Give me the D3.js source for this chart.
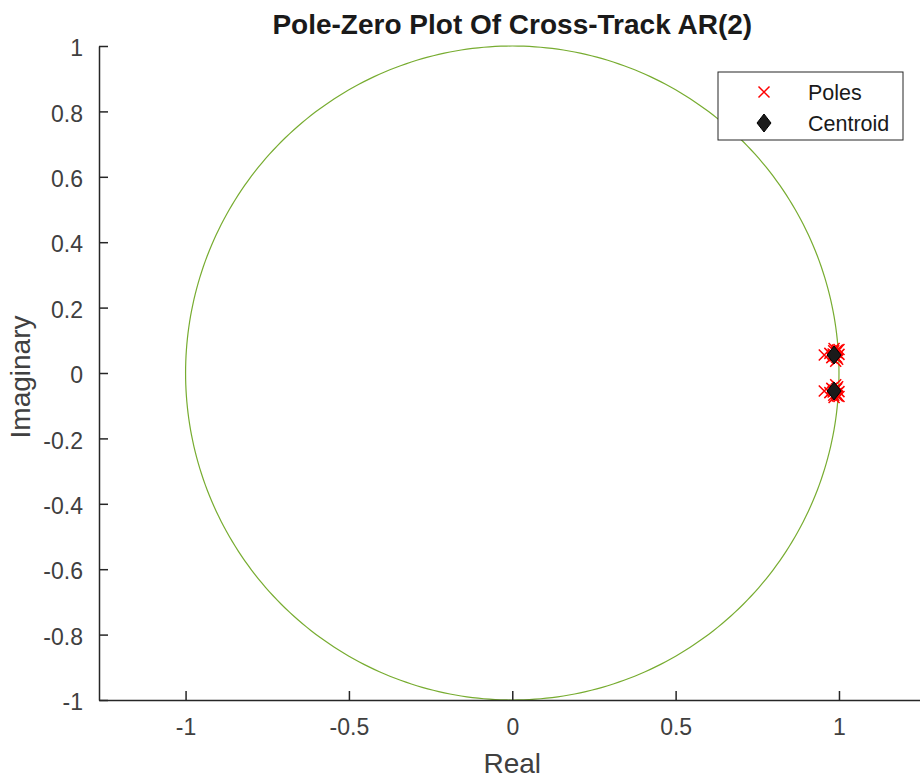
<!doctype HTML>
<html>
  <head>
    <meta charset="utf-8">
    <title>Pole-Zero Plot</title>
    <style>
      body { margin: 0; background: #fff; }
      text { font-family: "Liberation Sans", Arial, sans-serif; fill: #262626; }
    </style>
    <script src="https://cdn.jsdelivr.net/npm/d3@7/dist/d3.min.js"></script>
  </head>
  <body>

  <svg width="920" height="779"></svg>

  <script>

  // upper-half poles (conjugates are mirrored below)
  var poleReal = [0.955, 0.972, 0.978, 0.984, 0.988, 0.992, 0.996, 1.0, 0.985, 0.99, 0.995, 0.982, 1.0, 0.993];
  var poleImag = [0.055, 0.060, 0.047, 0.068, 0.052, 0.063, 0.042, 0.057, 0.075, 0.036, 0.070, 0.058, 0.072, 0.048];
  var centroidReal = [0.985, 0.985];
  var centroidImag = [0.055, -0.055];
  var xTicks = [-1, -0.5, 0, 0.5, 1];
  var yTicks = [-1, -0.8, -0.6, -0.4, -0.2, 0, 0.2, 0.4, 0.6, 0.8, 1];

  var $svg = d3.select('svg');
  var plotLeft = 99, plotRight = 920, plotTop = 46, plotBottom = 700;
  var axisColor = '#262626';
  var labelColor = '#404040';

  var x = d3.scaleLinear().domain([-1.265, 1.248]).range([plotLeft, plotRight]);
  var y = d3.scaleLinear().domain([-1, 1]).range([plotBottom, plotTop]);

  // unit circle
  var angles = d3.range(0, 361, 1).map(function(d){ return d * Math.PI / 180; });
  var line = d3.line()
    .x(function(a){ return x(Math.cos(a)); })
    .y(function(a){ return y(Math.sin(a)); });
  $svg.append('path')
    .attr('d', line(angles))
    .attr('fill', 'none')
    .attr('stroke', '#77AC30')
    .attr('stroke-width', 1.2);

  // axes
  var fmt = function(d){ return String(d); };
  var xAxis = d3.axisBottom(x).tickValues(xTicks).tickSizeInner(-9).tickSizeOuter(0)
    .tickPadding(19).tickFormat(fmt);
  var yAxis = d3.axisLeft(y).tickValues(yTicks).tickSizeInner(-9).tickSizeOuter(0)
    .tickPadding(16).tickFormat(fmt);

  var gx = $svg.append('g').attr('transform', 'translate(0,' + plotBottom + ')').call(xAxis);
  var gy = $svg.append('g').attr('transform', 'translate(' + plotLeft + ',0)').call(yAxis);
  [gx, gy].forEach(function(g){
    g.select('.domain').attr('stroke', axisColor).attr('stroke-width', 1.5);
    g.selectAll('.tick line').attr('stroke', axisColor).attr('stroke-width', 1.5);
    g.selectAll('.tick text').style('fill', labelColor)
      .style('font-family', '"Liberation Sans", Arial, sans-serif').style('font-size', '23px');
  });
  gx.selectAll('.tick text').attr('dy', '0.69em');
  gy.selectAll('.tick text').attr('dy', '0.42em');

  // poles
  var poles = [];
  poleReal.forEach(function(r, i){
    poles.push([r, poleImag[i]]);
    poles.push([r, -poleImag[i]]);
  });
  var s = 5.5;
  function cross(g, cx, cy){
    g.append('path')
      .attr('d', 'M' + (cx - s) + ',' + (cy - s) + 'L' + (cx + s) + ',' + (cy + s) +
                 'M' + (cx - s) + ',' + (cy + s) + 'L' + (cx + s) + ',' + (cy - s))
      .attr('stroke', '#ff0000').attr('stroke-width', 1.5).attr('fill', 'none');
  }
  function diamond(g, cx, cy){
    g.append('path')
      .attr('d', 'M' + cx + ',' + (cy - 9) + 'L' + (cx + 7) + ',' + cy + 'L' + cx + ',' + (cy + 9) +
                 'L' + (cx - 7) + ',' + cy + 'Z')
      .attr('fill', '#1a1a1a').attr('stroke', '#000').attr('stroke-width', 1);
  }
  var gp = $svg.append('g');
  poles.forEach(function(p){ cross(gp, x(p[0]), y(p[1])); });
  centroidReal.forEach(function(r, i){ diamond(gp, x(r), y(centroidImag[i])); });

  // title and labels
  $svg.append('text').attr('x', x(0)).attr('y', 34).attr('text-anchor', 'middle')
    .style('font-size', '28px').style('font-weight', 'bold').style('fill', '#1a1a1a')
    .text('Pole-Zero Plot Of Cross-Track AR(2)');
  $svg.append('text').attr('x', x(0)).attr('y', 773).attr('text-anchor', 'middle')
    .style('font-size', '28px').style('fill', labelColor).text('Real');
  $svg.append('text').attr('transform', 'translate(30,377) rotate(-90)')
    .attr('text-anchor', 'middle').style('font-size', '28px').style('fill', labelColor).text('Imaginary');

  // legend
  var lg = $svg.append('g');
  lg.append('rect').attr('x', 718).attr('y', 72).attr('width', 185).attr('height', 68)
    .attr('fill', '#fff').attr('stroke', axisColor).attr('stroke-width', 1);
  cross(lg, 764, 92);
  diamond(lg, 764, 123);
  lg.append('text').attr('x', 808).attr('y', 100).style('font-size', '21.5px').style('fill', '#1a1a1a').text('Poles');
  lg.append('text').attr('x', 808).attr('y', 131).style('font-size', '21.5px').style('fill', '#1a1a1a').text('Centroid');

  </script>

  </body>
</html>
